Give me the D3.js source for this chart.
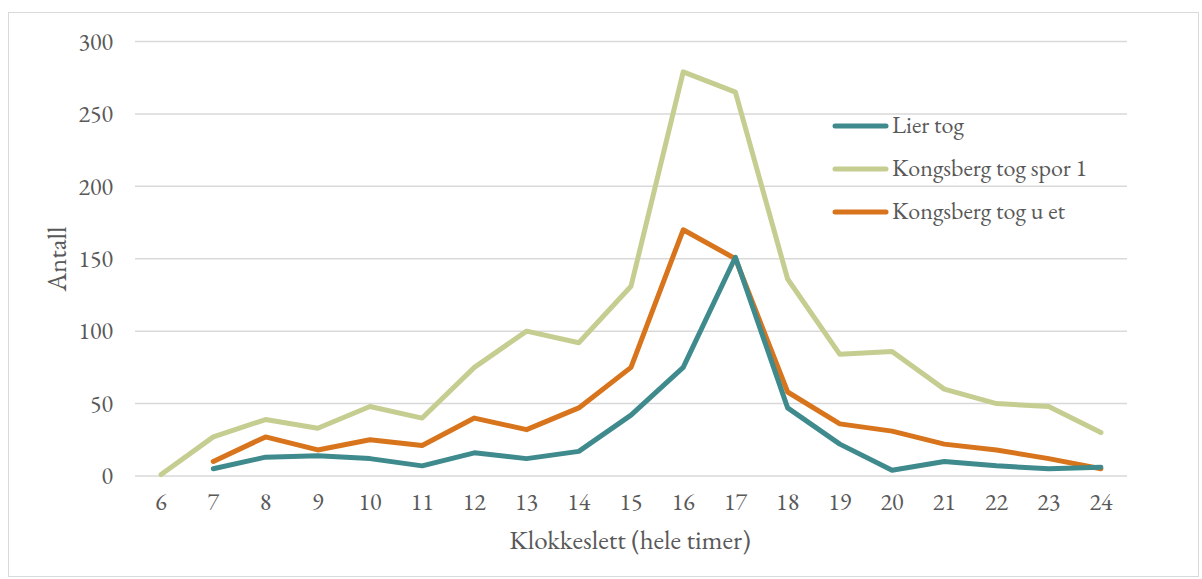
<!DOCTYPE html>
<html><head><meta charset="utf-8">
<script src="https://cdn.jsdelivr.net/npm/d3@7"></script>
<style>
html,body{margin:0;padding:0;background:#fff;}
svg{display:block;}
text{font-family:"EB Garamond",Garamond,"Liberation Serif","DejaVu Serif",serif;fill:#595959;}
</style></head>
<body>
<svg id="chart" width="1202" height="579"></svg>
<script>
const hours = ["6","7","8","9","10","11","12","13","14","15","16","17","18","19","20","21","22","23","24"];
const lierTog = [null,5,13,14,12,7,16,12,17,42,75,151,47,22,4,10,7,5,6];
const kongsbergSpor1 = [1,27,39,33,48,40,75,100,92,131,279,265,136,84,86,60,50,48,30];
const kongsbergUEt = [null,10,27,18,25,21,40,32,47,75,170,150,58,36,31,22,18,12,5];
const yTicks = [0,50,100,150,200,250,300];
const seriesNames = ["Lier tog","Kongsberg tog spor 1","Kongsberg tog u et"];
const colors = ["#3f8a8c","#c6cd90","#d7741c"];

const svg = d3.select("#chart");
svg.append("rect").attr("x",8.5).attr("y",12.5).attr("width",1190).attr("height",564)
  .attr("fill","#fff").attr("stroke","#d9d9d9").attr("stroke-width",1);

const x = d3.scaleBand().domain(hours).range([135,1127]);
const y = d3.scaleLinear().domain([0,300]).range([476,41.5]);

// gridlines
svg.append("g").selectAll("line").data(yTicks).join("line")
  .attr("x1",135).attr("x2",1127)
  .attr("y1",d=>y(d)).attr("y2",d=>y(d))
  .attr("stroke","#d9d9d9").attr("stroke-width",1.5);

const ff = '"EB Garamond",Garamond,"Liberation Serif",serif';
// y axis
const ya = svg.append("g").attr("transform","translate(135,0)")
  .call(d3.axisLeft(y).tickValues(yTicks).tickSize(0).tickPadding(22));
ya.select(".domain").remove();
ya.selectAll("text").style("font-size","24px").attr("fill","#595959").style("font-family",ff);

// x axis
const xa = svg.append("g").attr("transform","translate(0,476)")
  .call(d3.axisBottom(x).tickSize(0).tickPadding(17));
xa.select(".domain").remove();
xa.selectAll("text").style("font-size","24px").attr("fill","#595959").style("font-family",ff);

// lines
const allSeries = [lierTog,kongsbergSpor1,kongsbergUEt];
const line = d3.line()
  .defined(d=>d.v!==null)
  .x(d=>x(d.h)+x.bandwidth()/2)
  .y(d=>y(d.v));
[1,2,0].forEach(i=>{
  svg.append("path")
    .datum(hours.map((h,j)=>({h:h,v:allSeries[i][j]})))
    .attr("d",line).attr("fill","none")
    .attr("stroke",colors[i]).attr("stroke-width",5)
    .attr("stroke-linejoin","round").attr("stroke-linecap","round");
});

// axis titles
svg.append("text").attr("x",630).attr("y",549).attr("text-anchor","middle")
  .style("font-size","27px").text("Klokkeslett (hele timer)");
svg.append("text").attr("transform","translate(66,259) rotate(-90)").attr("text-anchor","middle")
  .style("font-size","27px").text("Antall");

// legend
const legY = [126,169,212];
const lg = svg.append("g");
seriesNames.forEach((n,i)=>{
  lg.append("line").attr("x1",835).attr("x2",886).attr("y1",legY[i]).attr("y2",legY[i])
    .attr("stroke",colors[i]).attr("stroke-width",5).attr("stroke-linecap","round");
  lg.append("text").attr("x",892).attr("y",legY[i]).attr("dy","0.3em")
    .style("font-size","24px").text(n);
});
</script>
</body></html>
